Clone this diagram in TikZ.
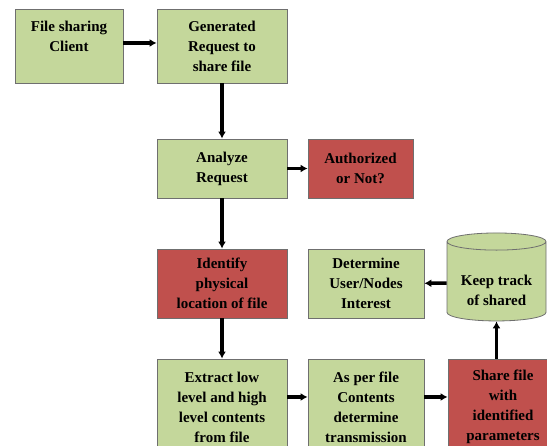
\documentclass[tikz,border=0pt]{standalone}
\usepackage{fontspec}
\setmainfont{Liberation Serif}
\usepackage{xcolor}
\usepackage{tikz}
\usetikzlibrary{shapes.geometric,arrows.meta,positioning}
\definecolor{boxgreen}{HTML}{C4D79B}
\definecolor{boxred}{HTML}{C0504D}
\definecolor{boxline}{HTML}{6F6F6F}

\begin{document}
\begin{tikzpicture}[x=1pt,y=-1pt]
  \tikzstyle{greenbox} = [fill=boxgreen,draw=boxline,line width=0.8pt,text=black,align=center,font=\bfseries\fontsize{15}{20}\selectfont]
  \tikzstyle{redbox} = [greenbox,fill=boxred]
  \tikzstyle{flow} = [line width=3.5pt,-{Latex[length=7pt,width=8pt]}]

  \useasboundingbox (0,0) rectangle (547,446);
  \clip (0,0) rectangle (547,446);

  \node[greenbox,minimum width=108pt,minimum height=74pt] (client) at (69,46) {File sharing\\Client\\\mbox{}};
  \node[greenbox,minimum width=130pt,minimum height=74pt] (request) at (222,46) {Generated\\Request to\\share file};

  \node[greenbox,minimum width=130pt,minimum height=59pt] (analyze) at (222,168.5) {Analyze\\Request};
  \node[redbox,minimum width=105pt,minimum height=59pt] (auth) at (360.5,168.5) {Authorized\\or Not?};

  \node[redbox,minimum width=130pt,minimum height=69pt] (locate) at (222,283.5) {Identify\\physical\\location of file};
  \node[greenbox,minimum width=116pt,minimum height=69pt] (interest) at (366,283.5) {Determine\\User/Nodes\\Interest};
  \node[greenbox,shape=cylinder,shape border rotate=90,aspect=0.22,minimum width=99pt,minimum height=88pt] (track) at (496.5,283) {\mbox{}\\[5pt]Keep track\\of shared};

  \node[greenbox,minimum width=130pt,minimum height=96pt] (extract) at (222,407) {Extract low\\level and high\\level contents\\from file};
  \node[greenbox,minimum width=116pt,minimum height=96pt] (contents) at (366,407) {As per file\\Contents\\determine\\transmission};
  \node[redbox,minimum width=110pt,minimum height=96pt] (share) at (503,407) {Share file\\with\\identified\\parameters};

  \draw[flow] ([yshift=3pt]client.east) -- ([yshift=3pt]request.west);
  \draw[flow] (request) -- (analyze);
  \draw[flow] (analyze) -- (auth);
  \draw[flow] (analyze) -- (locate);
  \draw[flow] (locate) -- (extract);
  \draw[flow] ([yshift=10pt]extract.east) -- ([yshift=10pt]contents.west);
  \draw[flow] ([yshift=10pt]contents.east) -- ([yshift=10pt]share.west);
  \draw[flow] (share.north -| track) -- (track.south);
  \draw[flow] (track) -- (interest);
\end{tikzpicture}
\end{document}
